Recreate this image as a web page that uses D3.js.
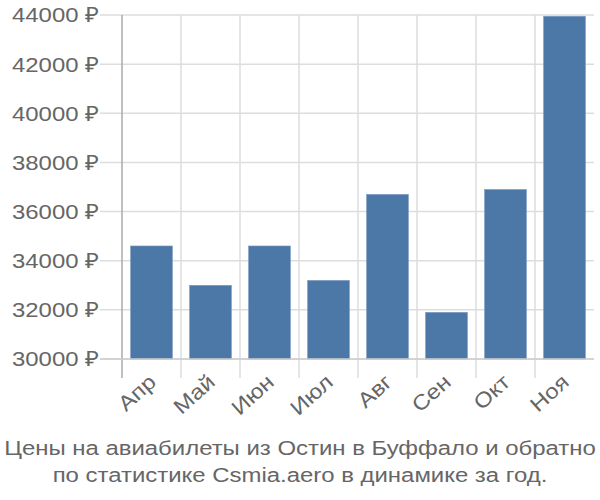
<!DOCTYPE html>
<html><head><meta charset="utf-8">
<script src="https://cdn.jsdelivr.net/npm/d3@7"></script>
<style>body{margin:0;background:#fff;} text{font-family:"Liberation Sans",Arial,sans-serif;}</style>
</head><body><svg id="c" width="600" height="500"></svg>
<script>
const months = ["Апр","Май","Июн","Июл","Авг","Сен","Окт","Ноя"];
const prices = [34600, 33000, 34600, 33200, 36700, 31900, 36900, 43950];
const yTicks = [30000, 32000, 34000, 36000, 38000, 40000, 42000, 44000];
const titleLines = ["Цены на авиабилеты из Остин в Буффало и обратно","по статистике Csmia.aero в динамике за год."];

const svg = d3.select("#c");
const pL = 122, pR = 594, pT = 15, pB = 359;
const sx = 1.14;
const x = d3.scaleBand().domain(months).range([pL, pR]).paddingInner(0.29).paddingOuter(0.145);
const xg = d3.scaleBand().domain(months).range([pL, pR]);
const y = d3.scaleLinear().domain([30000, 44000]).range([pB, pT]);

// horizontal grid
svg.append("g").selectAll("line").data(yTicks).join("line")
  .attr("x1", 100).attr("x2", pR).attr("y1", d=>y(d)).attr("y2", d=>y(d))
  .attr("stroke", "#dddddd").attr("stroke-width", 1.5);
// vertical grid
svg.append("g").selectAll("line").data(months.slice(1)).join("line")
  .attr("x1", d=>xg(d)).attr("x2", d=>xg(d)).attr("y1", pT).attr("y2", pB+19)
  .attr("stroke", "#dddddd").attr("stroke-width", 1.5);
// y axis line
svg.append("line").attr("x1", pL).attr("x2", pL).attr("y1", pT).attr("y2", pB+19)
  .attr("stroke", "#aaaaaa").attr("stroke-width", 1.5);

// bars
svg.append("g").selectAll("rect").data(prices).join("rect")
  .attr("x", (d,i)=>x(months[i])).attr("width", x.bandwidth())
  .attr("y", d=>y(d)).attr("height", d=>pB - y(d))
  .attr("fill", "#4c78a8").attr("stroke", "#7d9cc2").attr("stroke-width", 0.6);

// x axis line
svg.append("line").attr("x1", 100).attr("x2", pR).attr("y1", pB).attr("y2", pB)
  .attr("stroke", "#cccccc").attr("stroke-width", 1.5);

// y labels
svg.append("g").selectAll("text").data(yTicks).join("text")
  .attr("transform", d=>`translate(99,${y(d)}) scale(${sx},1)`)
  .attr("dy", "0.35em").attr("text-anchor", "end")
  .attr("font-size", 21).attr("fill", "#666").text(d=>d + " ₽");

// x labels
svg.append("g").selectAll("text").data(months).join("text")
  .attr("transform", d=>`translate(${xg(d)+xg.bandwidth()/2-4},${pB+14}) rotate(-42) scale(${sx},1)`)
  .attr("text-anchor", "end").attr("dy", "0.7em")
  .attr("font-size", 21).attr("fill", "#666").text(d=>d);

// title
svg.append("g").selectAll("text").data(titleLines).join("text")
  .attr("transform", (d,i)=>`translate(300,${455 + i*27}) scale(${sx},1)`)
  .attr("text-anchor", "middle")
  .attr("font-size", 21).attr("fill", "#666").text(d=>d);
</script></body></html>
